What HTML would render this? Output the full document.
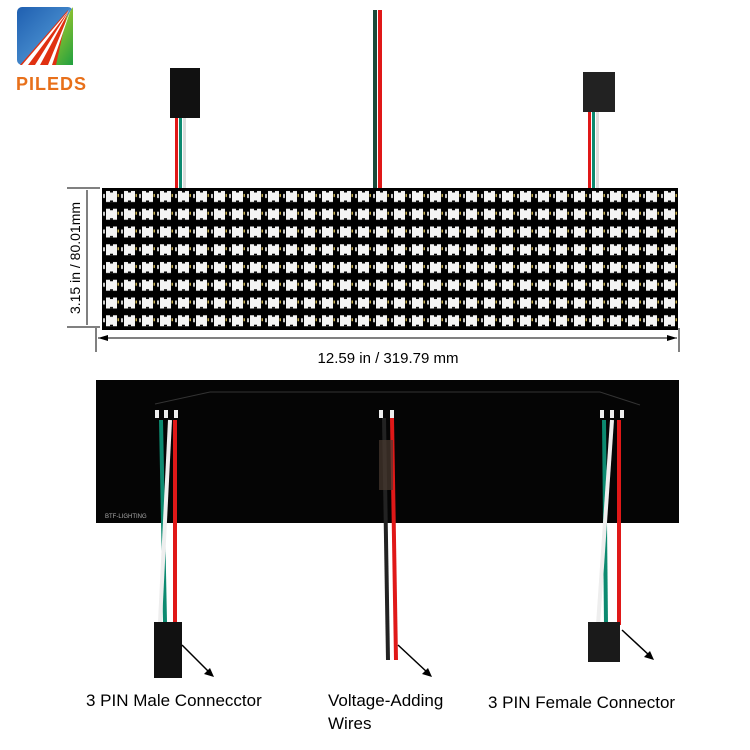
<!DOCTYPE html>
<html><head><meta charset="utf-8"><style>
body{margin:0;background:#fff;width:750px;height:750px;overflow:hidden}
svg{display:block}
text{font-family:"Liberation Sans",sans-serif}
</style></head><body>
<svg width="750" height="750" viewBox="0 0 750 750" xmlns="http://www.w3.org/2000/svg">
<defs>
<linearGradient id="bl" x1="0" y1="0" x2="1" y2="1"><stop offset="0" stop-color="#1f5fb0"/><stop offset="1" stop-color="#5fa8e0"/></linearGradient>
<linearGradient id="gr" x1="0" y1="0" x2="1" y2="1"><stop offset="0" stop-color="#f0e020"/><stop offset="1" stop-color="#20a040"/></linearGradient>
<pattern id="led" x="102" y="188" width="18" height="17.75" patternUnits="userSpaceOnUse">
<rect width="18" height="17.75" fill="#000"/>
<rect x="4" y="3" width="11" height="11" fill="#f4f4f4"/>
<rect x="8" y="3" width="3" height="1.5" fill="#000"/>
<rect x="8" y="12.5" width="3" height="1.5" fill="#000"/>
<rect x="1" y="6" width="2" height="4" fill="#ccc"/>
<rect x="15.5" y="6" width="1.5" height="3" fill="#c8b050"/>
</pattern>
</defs>
<!-- logo -->
<rect x="17" y="7" width="56" height="58" rx="5" fill="url(#bl)"/>
<polygon points="73,7 73,65 35,65" fill="url(#gr)"/>
<polygon points="20,65 68,10 56,65" fill="#e03010"/>
<polygon points="22,65 70,9 28,65" fill="#fff"/>
<polygon points="35,65 70,9 40,65" fill="#fff"/>
<polygon points="48,65 71,9 52,65" fill="#fff"/>
<text x="16" y="90" font-size="18" font-weight="bold" fill="#e8701a" letter-spacing="1">PILEDS</text>

<!-- top wires -->
<rect x="170" y="68" width="30" height="50" fill="#111"/>
<rect x="175" y="118" width="3" height="72" fill="#e01818"/>
<rect x="179" y="118" width="3" height="72" fill="#0c8a70"/>
<rect x="183" y="118" width="3" height="72" fill="#ddd"/>
<rect x="373" y="10" width="4" height="180" fill="#1a4a3a"/>
<rect x="378" y="10" width="4" height="180" fill="#e01818"/>
<rect x="583" y="72" width="32" height="40" fill="#222"/>
<rect x="588" y="112" width="3" height="78" fill="#e01818"/>
<rect x="592" y="112" width="3" height="78" fill="#0c8a70"/>
<rect x="596" y="112" width="3" height="78" fill="#ddd"/>
<!-- LED panel -->
<rect x="102" y="188" width="576" height="142" fill="url(#led)"/>
<!-- dimensions -->
<line x1="67" y1="188" x2="100" y2="188" stroke="#000"/>
<line x1="67" y1="327" x2="100" y2="327" stroke="#000"/>
<line x1="87" y1="190" x2="87" y2="325" stroke="#000"/>
<text transform="translate(80,258) rotate(-90)" font-size="14" text-anchor="middle">3.15 in / 80.01mm</text>
<line x1="96" y1="328" x2="96" y2="352" stroke="#000"/>
<line x1="679" y1="328" x2="679" y2="352" stroke="#000"/>
<line x1="98" y1="338" x2="677" y2="338" stroke="#000"/>
<polygon points="98,338 108,335 108,341" fill="#000"/>
<polygon points="677,338 667,335 667,341" fill="#000"/>
<text x="388" y="363" font-size="15" text-anchor="middle">12.59 in / 319.79 mm</text>
<!-- back panel -->
<rect x="96" y="380" width="583" height="143" fill="#050505"/>
<polyline points="155,404 210,392 600,392 640,405" fill="none" stroke="#333"/>
<rect x="155" y="410" width="4" height="8" fill="#eee"/><rect x="164" y="410" width="4" height="8" fill="#eee"/><rect x="174" y="410" width="4" height="8" fill="#eee"/>
<rect x="379" y="410" width="4" height="8" fill="#eee"/><rect x="390" y="410" width="4" height="8" fill="#eee"/>
<rect x="600" y="410" width="4" height="8" fill="#eee"/><rect x="610" y="410" width="4" height="8" fill="#eee"/><rect x="620" y="410" width="4" height="8" fill="#eee"/>
<text x="105" y="518" font-size="6" fill="#aaa">BTF-LIGHTING</text>
<!-- bottom wires -->
<polyline points="161,420 165,622" stroke="#0c8a70" stroke-width="4" fill="none"/>
<polyline points="170,420 160,622" stroke="#eee" stroke-width="4" fill="none"/>
<rect x="173" y="420" width="4" height="202" fill="#e01818"/>
<rect x="154" y="622" width="28" height="56" fill="#111"/>
<polyline points="384,418 388,660" stroke="#222" stroke-width="4" fill="none"/>
<polyline points="392,418 396,660" stroke="#e01818" stroke-width="4" fill="none"/>
<rect x="379" y="440" width="14" height="50" fill="#4a3a30" opacity=".7"/>
<polyline points="604,420 606,625" stroke="#0c8a70" stroke-width="4" fill="none"/>
<polyline points="612,420 598,625" stroke="#eee" stroke-width="4" fill="none"/>
<rect x="617" y="420" width="4" height="205" fill="#e01818"/>
<rect x="588" y="622" width="32" height="40" fill="#1a1a1a"/>
<!-- arrows -->
<g stroke="#000" stroke-width="1.5"><line x1="182" y1="645" x2="210" y2="673"/><line x1="398" y1="645" x2="428" y2="673"/><line x1="622" y1="630" x2="650" y2="656"/></g>
<polygon points="214,677 204,674 210,668" fill="#000"/>
<polygon points="432,677 422,674 428,668" fill="#000"/>
<polygon points="654,660 644,657 650,651" fill="#000"/>
<text x="86" y="706" font-size="17">3 PIN Male Connecctor</text>
<text x="328" y="706" font-size="17">Voltage-Adding</text>
<text x="328" y="729" font-size="17">Wires</text>
<text x="488" y="708" font-size="17">3 PIN Female Connector</text>
</svg>
</body></html>
